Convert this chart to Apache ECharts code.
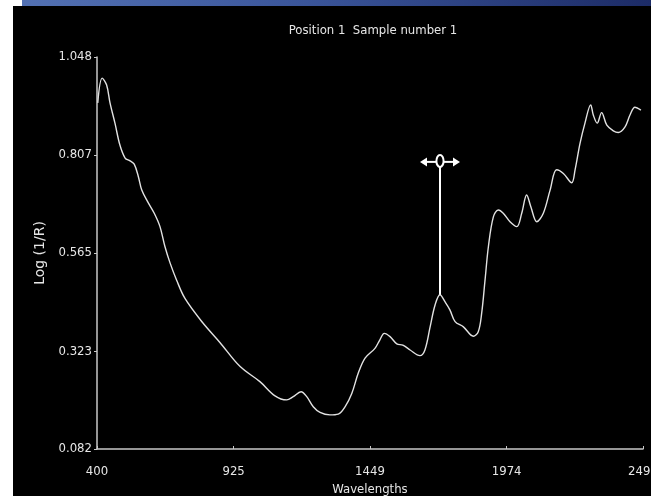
<!DOCTYPE html>
<html>
<head>
<meta charset="utf-8">
<script src="https://cdn.jsdelivr.net/npm/echarts@6/dist/echarts.min.js"></script>
<style>
  html, body { margin: 0; padding: 0; background: #ffffff; overflow: hidden; }
  #chart { position: absolute; left: 0; top: 0; width: 651px; height: 496px; }
</style>
</head>
<body>
<div id="chart"></div>
<script>
// Reflectance spectrum, sample 1 at position 1
const wavelengths = [403, 420, 437, 450, 469, 488, 508, 527, 543, 559, 572, 595, 620, 642, 661, 681, 706, 738, 804, 873,
  950, 1026, 1084, 1129, 1154, 1184, 1206, 1231, 1257, 1295, 1327, 1353, 1379, 1404, 1430, 1468, 1487, 1504, 1526, 1552,
  1575, 1603, 1641, 1660, 1680, 1699, 1718, 1737, 1756, 1776, 1808, 1846, 1865, 1878, 1891, 1904, 1923, 1942, 1961, 1987,
  2013, 2032, 2051, 2067, 2090, 2115, 2141, 2166, 2192, 2224, 2237, 2256, 2275, 2297, 2307, 2322, 2339, 2359, 2384, 2403,
  2429, 2448, 2467, 2490];
const logR = [0.935, 0.996, 0.979, 0.935, 0.885, 0.831, 0.799, 0.792, 0.784, 0.753, 0.720, 0.691, 0.663, 0.630, 0.581, 0.540, 0.498, 0.453, 0.395, 0.344,
  0.285, 0.248, 0.213, 0.203, 0.211, 0.223, 0.211, 0.186, 0.172, 0.166, 0.168, 0.186, 0.219, 0.269, 0.306, 0.330, 0.351, 0.367, 0.359, 0.341,
  0.338, 0.326, 0.312, 0.326, 0.383, 0.437, 0.462, 0.445, 0.425, 0.396, 0.383, 0.360, 0.371, 0.416, 0.498, 0.581, 0.654, 0.671, 0.663, 0.642,
  0.630, 0.663, 0.708, 0.679, 0.642, 0.663, 0.720, 0.770, 0.761, 0.738, 0.770, 0.835, 0.885, 0.930, 0.905, 0.885, 0.911, 0.880, 0.866, 0.862,
  0.876, 0.905, 0.924, 0.917];

const xTicks = [400, 925, 1449, 1974, 2498];
const yTicks = [0.082, 0.323, 0.565, 0.807, 1.048];

// Cursor placed on the band peak: wavelength, value at the curve, value at the handle
const cursorWavelength = 1718;
const cursorValue = 0.462;
const cursorHandleValue = 0.792;

const narrow = "'Liberation Sans Narrow', 'DejaVu Sans Condensed', 'Arial Narrow', sans-serif";
const axisColor = '#c8c8c8';
const textColor = '#e6e6e6';

const W = 651, H = 496;
const chart = echarts.init(document.getElementById('chart'), null, { renderer: 'canvas', width: W, height: H });

chart.setOption({
  animation: false,
  backgroundColor: '#ffffff',
  graphic: [
    // dark plotting panel, white margin on the left and the title bar strip on top
    { type: 'rect', left: 13, top: 6, shape: { width: W - 13, height: H - 6 }, style: { fill: '#000000' }, z: -9, silent: true },
    { type: 'rect', left: 22, top: 0, shape: { width: W - 22, height: 6 }, z: -9, silent: true,
      style: { fill: new echarts.graphic.LinearGradient(0, 0, 1, 0, [
        { offset: 0, color: '#5371b3' }, { offset: 0.45, color: '#3a559a' }, { offset: 1, color: '#1c2b66' }
      ]) } }
  ],
  title: {
    text: 'Position 1  Sample number 1',
    left: 368,
    textAlign: 'center',
    top: 19,
    textStyle: { color: textColor, fontFamily: narrow, fontSize: 13, fontWeight: 'normal' }
  },
  grid: { left: 97, right: 8, top: 57, bottom: 47, containLabel: false, outerBoundsMode: 'none' },
  xAxis: {
    type: 'value',
    min: 400,
    max: 2498,
    name: 'Wavelengths',
    nameLocation: 'middle',
    nameGap: 33,
    nameTextStyle: { color: textColor, fontFamily: narrow, fontSize: 13 },
    axisLine: { show: true, lineStyle: { color: axisColor, width: 1.5 } },
    axisTick: { show: true, inside: true, length: 3, customValues: xTicks, lineStyle: { color: axisColor } },
    axisLabel: { customValues: xTicks, color: textColor, fontFamily: narrow, fontSize: 13, margin: 16,
                 formatter: v => String(Math.round(v)) },
    splitLine: { show: false }
  },
  yAxis: {
    type: 'value',
    min: 0.082,
    max: 1.048,
    name: 'Log (1/R)',
    nameLocation: 'middle',
    nameGap: 50,
    nameRotate: 90,
    nameTextStyle: { color: textColor, fontFamily: "'DejaVu Sans', sans-serif", fontSize: 14 },
    axisLine: { show: true, lineStyle: { color: axisColor, width: 1.5 } },
    axisTick: { show: true, inside: false, length: 3, customValues: yTicks, lineStyle: { color: axisColor } },
    axisLabel: { customValues: yTicks, color: textColor, fontFamily: narrow, fontSize: 13, margin: 5,
                 formatter: v => v.toFixed(3) },
    splitLine: { show: false }
  },
  series: [
    {
      type: 'line',
      data: wavelengths.map((w, i) => [w, logR[i]]),
      smooth: 0.35,
      symbol: 'none',
      lineStyle: { color: '#e2e2e2', width: 1.4 },
      z: 2
    },
    {
      // Cursor: vertical stem with an oval handle and left/right arrows
      type: 'custom',
      data: [[cursorWavelength, cursorValue, cursorHandleValue]],
      z: 5,
      renderItem: function (params, api) {
        const base = api.coord([api.value(0), api.value(1)]);
        const top = api.coord([api.value(0), api.value(2)]);
        const cx = top[0], cy = top[1];
        const white = '#ffffff';
        return {
          type: 'group',
          children: [
            { type: 'line', shape: { x1: cx, y1: cy + 6, x2: base[0], y2: base[1] },
              style: { stroke: white, lineWidth: 2 } },
            { type: 'line', shape: { x1: cx - 15, y1: cy + 1, x2: cx + 15, y2: cy + 1 },
              style: { stroke: white, lineWidth: 2 } },
            { type: 'polygon', shape: { points: [[cx - 20, cy + 1], [cx - 13, cy - 3.5], [cx - 13, cy + 5.5]] },
              style: { fill: white } },
            { type: 'polygon', shape: { points: [[cx + 20, cy + 1], [cx + 13, cy - 3.5], [cx + 13, cy + 5.5]] },
              style: { fill: white } },
            { type: 'ellipse', shape: { cx: cx, cy: cy, rx: 3.6, ry: 6 },
              style: { fill: '#000000', stroke: white, lineWidth: 2 } }
          ]
        };
      }
    }
  ]
});
</script>
</body>
</html>
